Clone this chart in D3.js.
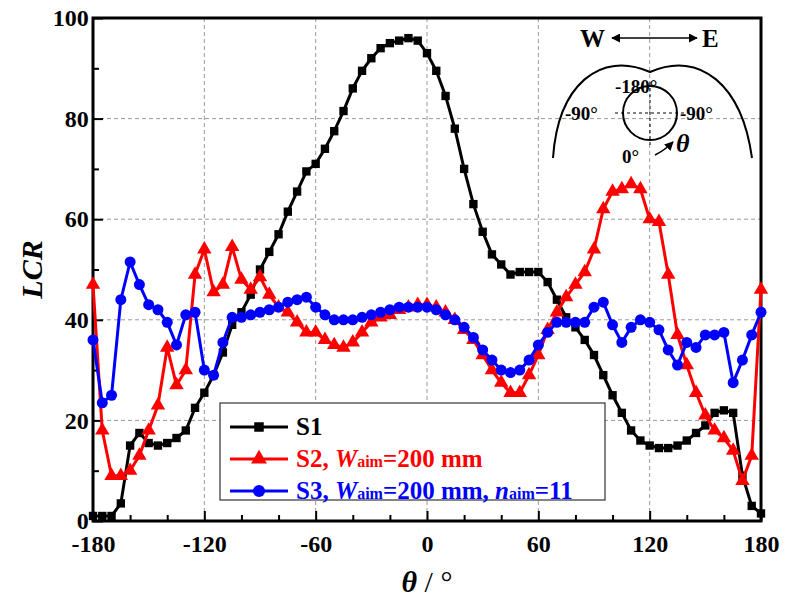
<!DOCTYPE html>
<html lang="en">
<head>
<script src="https://d3js.org/d3.v7.min.js"></script>
<style>
body { margin: 0; background: #fff; }
text { font-family: "Liberation Serif", "Times New Roman", serif; font-weight: bold; }
</style>
</head>
<body>
<svg width="788" height="601"></svg>
<script>
var theta = d3.range(-180, 181, 5);
var s1 = [1,1,1,3.5,15,17.5,15.5,15,15.5,16.5,18,22.5,25.5,29,33.5,39,41.5,45,50,53.5,57,61.5,65.5,69.5,71,74,77.5,81.5,86,89.5,92,94,95,95.5,96,95.5,93,89.5,84.5,78,70,63,57.5,53,51,49,49.5,49.5,49.5,47.5,44,40.5,38.5,36,33,29,25,21.5,18,16,15,14.5,14.5,15,16,17.5,19,21.5,22,21.5,9,3,1.5];
var s2 = [47,18,9,9,10,13,18,23,34.5,27,30,49,54,45.5,47,54.5,48,46,48.5,45,42.5,41.5,39.5,37.5,37.5,36,35,34.5,35.5,37.5,39.5,40.5,41,42,42.5,43,43,42.5,41.5,40,38,36,33,30,27.5,25.5,25.5,29,33,38,41.5,44.5,47,49.5,54,62,65.5,66,67,66,60,59.5,49,37,31,25.5,21,18,16.5,14,8,13,46];
var s3 = [36,23.5,25,44,51.5,47,43,42,39.5,35,41,41.5,30,29,35.5,40.5,40.5,41,41.5,42,42.5,43.5,44,44.5,42.5,41,40,40,40,40.5,41,41.5,42,42.5,42.5,42.5,42.5,42,41,40,38.5,36.5,34,32,30,29.5,30,32,35,37.5,39.5,39.5,39.5,39.5,42.5,43.5,39,35.5,38.5,40,39.5,38,34,31,35.5,34.5,37,37,37.5,27.5,32,37,41.5];
var xTicks = [-180, -120, -60, 0, 60, 120, 180];
var yTicks = [0, 20, 40, 60, 80, 100];

var svg = d3.select("svg");
var L = 93, R = 761, T = 18, B = 521;
var x = d3.scaleLinear().domain([-180, 180]).range([L, R]);
var y = d3.scaleLinear().domain([0, 100]).range([B, T]);

// grid
var g = svg.append("g");
g.selectAll(".gx").data(xTicks.slice(1, -1)).enter().append("line")
  .attr("x1", d => x(d)).attr("x2", d => x(d)).attr("y1", T).attr("y2", B)
  .attr("stroke", "#999").attr("stroke-dasharray", "4,3");
g.selectAll(".gy").data(yTicks.slice(1, -1)).enter().append("line")
  .attr("y1", d => y(d)).attr("y2", d => y(d)).attr("x1", L).attr("x2", R)
  .attr("stroke", "#999").attr("stroke-dasharray", "4,3");

// axes
var ax = svg.append("g").attr("transform", "translate(0," + B + ")")
  .call(d3.axisBottom(x).tickValues(d3.range(-180, 181, 20)).tickSize(-7).tickFormat(d => xTicks.indexOf(d) >= 0 ? d : ""));
ax.selectAll(".tick line").attr("stroke-width", 2).attr("y2", d => xTicks.indexOf(d) >= 0 ? -10 : -6);
var ay = svg.append("g").attr("transform", "translate(" + L + ",0)")
  .call(d3.axisLeft(y).tickValues(d3.range(0, 101, 10)).tickSize(-7).tickFormat(d => yTicks.indexOf(d) >= 0 ? d : ""));
ay.selectAll(".tick line").attr("stroke-width", 2).attr("x2", d => yTicks.indexOf(d) >= 0 ? 10 : 6);
[ax, ay].forEach(a => {
  a.select(".domain").remove();
  a.selectAll("text").attr("font-size", 24).attr("font-family", "Liberation Serif").attr("font-weight", "bold").attr("fill", "#000");
});
ax.selectAll("text").attr("dy", "1.15em");
ay.selectAll("text").attr("dx", "-0.05em");
svg.append("rect").attr("x", L).attr("y", T).attr("width", R - L).attr("height", B - T)
  .attr("fill", "none").attr("stroke", "#000").attr("stroke-width", 3);

// series
var series = [
  {data: s1, color: "#000", sym: d3.symbolSquare, size: 70},
  {data: s2, color: "#f00", sym: d3.symbolTriangle, size: 90},
  {data: s3, color: "#00f", sym: d3.symbolCircle, size: 95}
];
var line = d3.line().x((d, i) => x(theta[i])).y(d => y(d));
series.forEach(s => {
  svg.append("path").attr("d", line(s.data)).attr("fill", "none").attr("stroke", s.color).attr("stroke-width", 3);
  svg.append("g").selectAll("path").data(s.data).enter().append("path")
    .attr("d", d3.symbol().type(s.sym).size(s.size))
    .attr("transform", (d, i) => "translate(" + x(theta[i]) + "," + y(d) + ")")
    .attr("fill", s.color);
});

// legend
var lg = svg.append("g");
lg.append("rect").attr("x", 220).attr("y", 403).attr("width", 385).attr("height", 97)
  .attr("fill", "#fff").attr("stroke", "#333").attr("stroke-width", 1.2);
var labels = [
  [{t: "S1"}],
  [{t: "S2, "}, {t: "W", i: 1}, {t: "aim", s: 1}, {t: "=200 mm"}],
  [{t: "S3, "}, {t: "W", i: 1}, {t: "aim", s: 1}, {t: "=200 mm, "}, {t: "n", i: 1}, {t: "aim", s: 1}, {t: "=11"}]
];
series.forEach((s, k) => {
  var yy = 427 + k * 32;
  lg.append("line").attr("x1", 230).attr("x2", 288).attr("y1", yy).attr("y2", yy).attr("stroke", s.color).attr("stroke-width", 3);
  lg.append("path").attr("d", d3.symbol().type(s.sym).size(s.size + 20)).attr("transform", "translate(259," + yy + ")").attr("fill", s.color);
  var t = lg.append("text").attr("x", 296).attr("y", yy + 8).attr("font-size", 25).attr("fill", s.color);
  labels[k].forEach(p => {
    t.append("tspan").text(p.t).attr("font-style", p.i ? "italic" : null).attr("font-size", p.s ? 16 : null);
  });
});

// axis titles
svg.append("text").attr("transform", "translate(42," + ((T + B) / 2) + ") rotate(-90)")
  .attr("text-anchor", "middle").attr("font-size", 30).attr("font-style", "italic").text("LCR");
var xt = svg.append("text").attr("x", x(0)).attr("y", 592).attr("text-anchor", "middle").attr("font-size", 30);
xt.append("tspan").attr("font-style", "italic").text("θ");
xt.append("tspan").attr("font-weight", "normal").text(" / °");

// inset diagram
var ins = svg.append("g");
ins.append("path").attr("d", "M553,158 C558,85 600,50 650,72 C700,50 742,85 752,158")
  .attr("fill", "none").attr("stroke", "#000").attr("stroke-width", 2);
ins.append("circle").attr("cx", 650).attr("cy", 113).attr("r", 27).attr("fill", "none").attr("stroke", "#000").attr("stroke-width", 2);
ins.append("line").attr("x1", 650).attr("x2", 650).attr("y1", 82).attr("y2", 146).attr("stroke", "#000").attr("stroke-dasharray", "3,3");
ins.append("line").attr("x1", 615).attr("x2", 685).attr("y1", 113).attr("y2", 113).attr("stroke", "#000").attr("stroke-dasharray", "3,3");
svg.append("defs").append("marker").attr("id", "ar").attr("viewBox", "0 0 10 10").attr("refX", 9).attr("refY", 5)
  .attr("markerWidth", 6).attr("markerHeight", 6).attr("orient", "auto-start-reverse")
  .append("path").attr("d", "M0,0L10,5L0,10z").attr("fill", "#000");
ins.append("line").attr("x1", 612).attr("x2", 697).attr("y1", 38).attr("y2", 38).attr("stroke", "#000").attr("stroke-width", 1.5)
  .attr("marker-start", "url(#ar)").attr("marker-end", "url(#ar)");
ins.append("path").attr("d", "M655,155 Q665,150 673,142").attr("fill", "none").attr("stroke", "#000").attr("stroke-width", 1.5).attr("marker-end", "url(#ar)");
ins.append("text").attr("x", 580).attr("y", 47).attr("font-size", 25).text("W");
ins.append("text").attr("x", 702).attr("y", 47).attr("font-size", 25).text("E");
ins.append("text").attr("x", 615).attr("y", 93).attr("font-size", 19).text("-180°");
ins.append("text").attr("x", 565).attr("y", 120).attr("font-size", 19).text("-90°");
ins.append("text").attr("x", 680).attr("y", 120).attr("font-size", 19).text("-90°");
ins.append("text").attr("x", 622).attr("y", 163).attr("font-size", 19).text("0°");
ins.append("text").attr("x", 676).attr("y", 152).attr("font-size", 26).attr("font-style", "italic").text("θ");
</script>
</body>
</html>
